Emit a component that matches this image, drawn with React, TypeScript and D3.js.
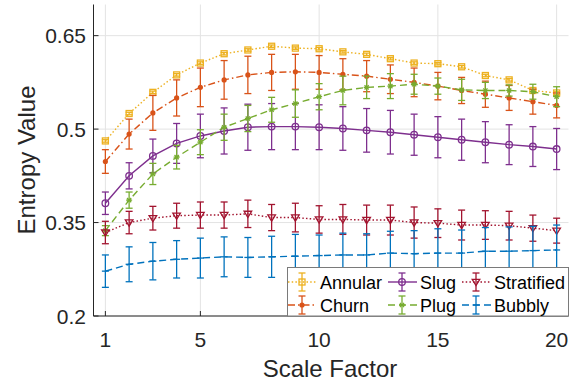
import React, { useEffect, useRef } from 'react';
import * as d3 from 'd3';

// scale factor values on the x axis
const scales = [1, 2, 3, 4, 5, 6, 7, 8, 9, 10, 11, 12, 13, 14, 15, 16, 17, 18, 19, 20];

const annular = [0.481, 0.525, 0.559, 0.587, 0.606, 0.621, 0.627, 0.633, 0.630, 0.629, 0.624, 0.620, 0.613, 0.606, 0.605, 0.600, 0.586, 0.579, 0.562, 0.558];
const annularErr = [0.002, 0.002, 0.002, 0.002, 0.002, 0.002, 0.002, 0.002, 0.002, 0.002, 0.002, 0.002, 0.002, 0.002, 0.002, 0.002, 0.002, 0.002, 0.002, 0.002];

const churn = [0.448, 0.492, 0.526, 0.550, 0.567, 0.579, 0.587, 0.591, 0.592, 0.591, 0.588, 0.585, 0.580, 0.575, 0.569, 0.562, 0.556, 0.550, 0.544, 0.538];
const churnErr = [0.019, 0.024, 0.028, 0.029, 0.031, 0.031, 0.030, 0.029, 0.028, 0.027, 0.025, 0.025, 0.023, 0.023, 0.022, 0.021, 0.021, 0.020, 0.020, 0.020];

const slug = [0.381, 0.425, 0.457, 0.477, 0.489, 0.497, 0.503, 0.504, 0.504, 0.503, 0.501, 0.498, 0.495, 0.491, 0.487, 0.483, 0.479, 0.475, 0.472, 0.468];
const slugErr = [0.018, 0.021, 0.027, 0.032, 0.035, 0.037, 0.037, 0.037, 0.037, 0.036, 0.035, 0.035, 0.035, 0.033, 0.033, 0.033, 0.033, 0.032, 0.032, 0.033];

const plug = [0.337, 0.386, 0.428, 0.455, 0.479, 0.503, 0.517, 0.531, 0.541, 0.552, 0.562, 0.567, 0.569, 0.572, 0.569, 0.563, 0.562, 0.562, 0.560, 0.552];
const plugErr = [0.008, 0.013, 0.017, 0.019, 0.020, 0.021, 0.021, 0.020, 0.022, 0.021, 0.023, 0.018, 0.020, 0.016, 0.013, 0.017, 0.013, 0.009, 0.012, 0.016];

const stratified = [0.334, 0.350, 0.357, 0.361, 0.362, 0.362, 0.364, 0.358, 0.358, 0.355, 0.355, 0.354, 0.354, 0.350, 0.349, 0.346, 0.346, 0.345, 0.341, 0.337];
const stratifiedErr = [0.018, 0.018, 0.019, 0.020, 0.021, 0.021, 0.022, 0.021, 0.023, 0.022, 0.024, 0.024, 0.024, 0.025, 0.023, 0.024, 0.023, 0.023, 0.021, 0.020];

const bubbly = [0.272, 0.283, 0.288, 0.291, 0.293, 0.295, 0.294, 0.295, 0.296, 0.297, 0.298, 0.298, 0.301, 0.300, 0.301, 0.301, 0.304, 0.304, 0.305, 0.306];
const bubblyErr = [0.026, 0.028, 0.030, 0.030, 0.032, 0.032, 0.032, 0.033, 0.035, 0.033, 0.035, 0.034, 0.035, 0.037, 0.039, 0.037, 0.038, 0.039, 0.039, 0.040];

const xTicks = [1, 5, 10, 15, 20];
const yTicks = [0.2, 0.35, 0.5, 0.65];
const yTickLabels = ['0.2', '0.35', '0.5', '0.65'];

const series = [
  { name: 'Annular', vals: annular, err: annularErr, color: '#EDB120', dash: '1.5,2.2', marker: 'square' },
  { name: 'Churn', vals: churn, err: churnErr, color: '#D95319', dash: '7,3,1.5,3', marker: 'dot' },
  { name: 'Slug', vals: slug, err: slugErr, color: '#7E2F8E', dash: null, marker: 'circle' },
  { name: 'Plug', vals: plug, err: plugErr, color: '#77AC30', dash: '7,4', marker: 'star' },
  { name: 'Stratified', vals: stratified, err: stratifiedErr, color: '#A2142F', dash: '1.5,2.2', marker: 'triangle' },
  { name: 'Bubbly', vals: bubbly, err: bubblyErr, color: '#0072BD', dash: '7,4', marker: 'plus' },
];

// legend layout (row-wise)
const legendOrder = ['Annular', 'Slug', 'Stratified', 'Churn', 'Plug', 'Bubbly'];

const FONT = '"Liberation Sans", Arial, Helvetica, sans-serif';
const TEXT = '#262626';

const drawMarker = (g: any, kind: string, cx: number, cy: number, color: string) => {
  if (kind === 'square') {
    g.append('rect').attr('x', cx - 3).attr('y', cy - 3).attr('width', 6).attr('height', 6)
      .attr('fill', 'none').attr('stroke', color).attr('stroke-width', 1.3);
  } else if (kind === 'dot') {
    g.append('circle').attr('cx', cx).attr('cy', cy).attr('r', 2.6).attr('fill', color);
  } else if (kind === 'circle') {
    g.append('circle').attr('cx', cx).attr('cy', cy).attr('r', 3.3)
      .attr('fill', 'none').attr('stroke', color).attr('stroke-width', 1.3);
  } else if (kind === 'triangle') {
    g.append('path').attr('d', `M${cx - 3.8},${cy - 2.6}L${cx + 3.8},${cy - 2.6}L${cx},${cy + 3.6}Z`)
      .attr('fill', 'none').attr('stroke', color).attr('stroke-width', 1.3);
  } else if (kind === 'star') {
    const r = 3;
    g.append('path')
      .attr('d', `M${cx - r},${cy}H${cx + r}M${cx - r * 0.7},${cy - r * 0.7}L${cx + r * 0.7},${cy + r * 0.7}M${cx - r * 0.7},${cy + r * 0.7}L${cx + r * 0.7},${cy - r * 0.7}`)
      .attr('stroke', color).attr('stroke-width', 1.3);
  } else if (kind === 'plus') {
    g.append('path').attr('d', `M${cx - 3.5},${cy}H${cx + 3.5}`)
      .attr('stroke', color).attr('stroke-width', 1.3);
  }
};

const App = () => {
  const svgRef = useRef(null);

  useEffect(() => {
    const svg = d3.select(svgRef.current);
    svg.selectAll('*').remove();

    const x = d3.scaleLinear().domain([0.5, 20.5]).range([93.5, 568.5]);
    const y = d3.scaleLinear().domain([0.2, 0.7]).range([316, 4.5]);

    // grid
    const grid = svg.append('g');
    xTicks.forEach(t => {
      grid.append('line').attr('x1', x(t)).attr('x2', x(t)).attr('y1', y(0.7)).attr('y2', y(0.2))
        .attr('stroke', '#e3e3e3').attr('stroke-width', 1);
    });
    yTicks.forEach(t => {
      grid.append('line').attr('x1', x(0.5)).attr('x2', x(20.5)).attr('y1', y(t)).attr('y2', y(t))
        .attr('stroke', '#e3e3e3').attr('stroke-width', 1);
    });

    // axes lines and inward ticks
    const ax = svg.append('g');
    ax.append('line').attr('x1', x(0.5)).attr('x2', x(0.5)).attr('y1', y(0.7)).attr('y2', y(0.2))
      .attr('stroke', TEXT).attr('stroke-width', 1);
    ax.append('line').attr('x1', x(0.5)).attr('x2', x(20.5)).attr('y1', y(0.2)).attr('y2', y(0.2))
      .attr('stroke', TEXT).attr('stroke-width', 1);
    xTicks.forEach(t => {
      ax.append('line').attr('x1', x(t)).attr('x2', x(t)).attr('y1', y(0.2)).attr('y2', y(0.2) - 5)
        .attr('stroke', TEXT).attr('stroke-width', 1);
      ax.append('text').attr('x', x(t)).attr('y', 347).attr('text-anchor', 'middle')
        .attr('font-family', FONT).attr('font-size', 21).attr('fill', TEXT).text(String(t));
    });
    yTicks.forEach((t, i) => {
      ax.append('line').attr('x1', x(0.5)).attr('x2', x(0.5) + 5).attr('y1', y(t)).attr('y2', y(t))
        .attr('stroke', TEXT).attr('stroke-width', 1);
      ax.append('text').attr('x', 86).attr('y', y(t) + 7.5).attr('text-anchor', 'end')
        .attr('font-family', FONT).attr('font-size', 21).attr('fill', TEXT).text(yTickLabels[i]);
    });

    // axis titles
    svg.append('text').attr('x', 330).attr('y', 377).attr('text-anchor', 'middle')
      .attr('font-family', FONT).attr('font-size', 24).attr('fill', TEXT).text('Scale Factor');
    svg.append('text').attr('transform', `translate(35,160) rotate(-90)`).attr('text-anchor', 'middle')
      .attr('font-family', FONT).attr('font-size', 24).attr('fill', TEXT).text('Entropy Value');

    // series
    const line = d3.line<number>().x((d, i) => x(scales[i])).y(d => y(d));
    series.forEach(s => {
      const g = svg.append('g');
      // error bars
      s.vals.forEach((v, i) => {
        const cx = x(scales[i]);
        const lo = y(v - s.err[i]);
        const hi = y(v + s.err[i]);
        g.append('line').attr('x1', cx).attr('x2', cx).attr('y1', lo).attr('y2', hi)
          .attr('stroke', s.color).attr('stroke-width', 1.3);
        [lo, hi].forEach(yy => {
          g.append('line').attr('x1', cx - 3.5).attr('x2', cx + 3.5).attr('y1', yy).attr('y2', yy)
            .attr('stroke', s.color).attr('stroke-width', 1.3);
        });
      });
      g.append('path').attr('d', line(s.vals)).attr('fill', 'none')
        .attr('stroke', s.color).attr('stroke-width', 1.4)
        .attr('stroke-dasharray', s.dash);
      s.vals.forEach((v, i) => drawMarker(g, s.marker, x(scales[i]), y(v), s.color));
    });

    // legend
    const lg = svg.append('g');
    lg.append('rect').attr('x', 287.5).attr('y', 267.5).attr('width', 281).attr('height', 48.5)
      .attr('fill', 'white').attr('stroke', '#7a7a7a').attr('stroke-width', 1);
    const colX = [288, 388, 462];
    const rowY = [282, 305];
    legendOrder.forEach((name, k) => {
      const s = series.find(d => d.name === name)!;
      const lx = colX[k % 3];
      const ly = rowY[Math.floor(k / 3)];
      const mid = lx + 14;
      lg.append('line').attr('x1', lx).attr('x2', lx + 29).attr('y1', ly).attr('y2', ly)
        .attr('stroke', s.color).attr('stroke-width', 1.4).attr('stroke-dasharray', s.dash);
      lg.append('line').attr('x1', mid).attr('x2', mid).attr('y1', ly - 9).attr('y2', ly + 9)
        .attr('stroke', s.color).attr('stroke-width', 1.3);
      [ly - 9, ly + 9].forEach(yy => {
        lg.append('line').attr('x1', mid - 3.5).attr('x2', mid + 3.5).attr('y1', yy).attr('y2', yy)
          .attr('stroke', s.color).attr('stroke-width', 1.3);
      });
      drawMarker(lg, s.marker, mid, ly, s.color);
      lg.append('text').attr('x', lx + 32).attr('y', ly + 6.5)
        .attr('font-family', FONT).attr('font-size', 18).attr('fill', '#000').text(name);
    });
  }, []);

  return (
    <svg ref={svgRef} width={581} height={387}
      style={{ position: 'absolute', left: 0, top: 0, background: 'white' }} />
  );
};

export default App;
